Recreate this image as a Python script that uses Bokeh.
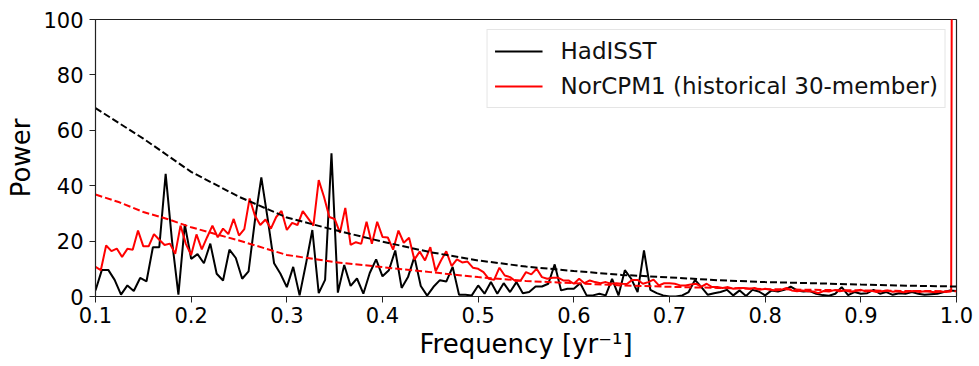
import numpy as np
from bokeh.plotting import figure
from bokeh.models import Range1d, FixedTicker, PrintfTickFormatter
from bokeh.embed import file_html
from bokeh.resources import INLINE

# ---------------- data ----------------
# HadISST periodogram (harmonics k/150 yr^-1, k = 15..150)
hadisst_k0, hadisst_n = 15, 150
hadisst_power = [
    2.2, 9.6, 9.6, 6.0, 0.7, 4.0, 2.0, 6.7, 5.5, 17.8,
    17.8, 44.3, 20.0, 0.7, 26.0, 13.6, 15.3, 12.0, 19.1, 8.2,
    5.8, 16.9, 13.9, 6.4, 9.1, 27.5, 43.0, 28.0, 12.0, 8.2,
    3.4, 10.7, 0.4, 11.8, 24.0, 1.2, 6.0, 51.7, 1.4, 11.4,
    3.8, 6.5, 1.0, 8.5, 13.4, 7.3, 9.5, 16.6, 3.1, 7.0,
    14.3, 3.8, 0.3, 3.5, 5.9, 5.4, 10.7, 0.6, 0.6, 0.4,
    4.0, 1.0, 5.2, 1.0, 4.8, 1.6, 5.2, 1.2, 1.6, 3.6,
    3.6, 4.6, 11.6, 2.2, 2.8, 2.8, 4.8, 0.4, 0.4, 1.0,
    0.4, 6.4, 0.4, 9.5, 6.4, 1.6, 16.6, 2.4, 1.2, 0.4,
    0.0, 0.0, 0.4, 1.6, 6.0, 3.4, 0.6, 1.2, 1.6, 2.4,
    0.4, 2.2, 0.2, 2.4, 1.8, 0.4, 2.2, 1.8, 2.4, 3.6,
    2.2, 1.8, 2.0, 1.0, 0.5, 0.3, 1.0, 3.4, 0.5, 1.6,
    1.0, 1.2, 2.4, 1.0, 1.6, 0.6, 1.2, 1.0, 1.6, 1.0,
    0.6, 0.8, 1.0, 1.6, 2.2, 2.0,
]

# NorCPM1 historical 30-member periodogram (harmonics k/180 yr^-1, k = 18..180)
norcpm_k0, norcpm_n = 18, 180
norcpm_power = [
    10.7, 9.5, 18.4, 16.4, 17.3, 14.3, 17.2, 16.9, 23.8, 18.1,
    18.1, 22.5, 20.5, 18.6, 19.1, 15.4, 25.6, 19.0, 15.0, 22.4,
    17.0, 21.4, 25.6, 21.4, 24.5, 22.5, 28.0, 22.0, 24.3, 35.4,
    29.2, 25.8, 27.8, 24.5, 28.7, 30.9, 24.0, 26.6, 25.8, 30.8,
    28.2, 25.6, 42.0, 35.9, 28.7, 28.0, 23.0, 32.0, 18.6, 19.6,
    19.0, 27.0, 19.0, 27.0, 21.5, 21.3, 16.9, 23.8, 19.4, 21.2,
    13.3, 16.2, 13.0, 17.8, 9.1, 13.0, 16.3, 11.0, 13.4, 12.3,
    12.6, 10.4, 10.0, 8.8, 6.4, 6.0, 10.4, 7.6, 7.0, 5.6,
    5.8, 8.8, 8.0, 10.0, 7.0, 6.4, 6.8, 6.8, 5.8, 5.8,
    4.6, 6.4, 4.8, 5.8, 5.2, 4.8, 5.2, 4.6, 4.8, 4.6,
    4.5, 6.0, 6.0, 4.6, 5.2, 6.1, 4.0, 4.8, 4.8, 4.6,
    4.0, 4.0, 4.3, 4.6, 3.6, 4.6, 3.4, 3.4, 3.1, 3.4,
    2.8, 3.1, 3.1, 2.8, 3.1, 2.4, 2.8, 2.4, 2.2, 2.4,
    3.1, 2.2, 1.9, 2.2, 1.9, 1.8, 1.2, 2.0, 1.8, 2.3,
    1.9, 2.2, 1.7, 2.0, 2.4, 1.8, 2.1, 1.6, 1.9, 2.2,
    1.7, 1.9, 1.5, 1.8, 2.0, 1.6, 1.9, 1.7, 1.5, 1.8,
    1.6, 1.9, 1000.0,
]

# significance (red-noise) curves, read at these frequencies
sig_freq = [0.1, 0.125, 0.15, 0.175, 0.2, 0.25, 0.3, 0.35, 0.4, 0.45,
            0.5, 0.55, 0.6, 0.65, 0.7, 0.75, 0.8, 0.85, 0.9, 0.95, 1.0]
hadisst_sig = [68.0, 62.5, 57.0, 51.0, 45.0, 36.0, 28.5, 24.0, 19.8, 16.0,
               13.0, 10.8, 9.2, 7.8, 6.9, 5.9, 5.2, 4.8, 4.3, 3.9, 3.6]
norcpm_sig = [36.8, 34.0, 30.5, 28.0, 25.0, 20.2, 15.0, 12.4, 10.6, 8.8,
              7.0, 5.6, 4.8, 4.0, 3.5, 3.1, 2.7, 2.4, 2.2, 2.0, 1.9]

x_ticks = [0.1, 0.2, 0.3, 0.4, 0.5, 0.6, 0.7, 0.8, 0.9, 1.0]
y_ticks = [0, 20, 40, 60, 80, 100]

hadisst_freq = (np.arange(len(hadisst_power)) + hadisst_k0) / hadisst_n
norcpm_freq = (np.arange(len(norcpm_power)) + norcpm_k0) / norcpm_n

FONT = "DejaVu Sans"

p = figure(width=979, height=366, output_backend="svg", toolbar_location=None,
           x_range=Range1d(0.1, 1.0), y_range=Range1d(0, 100),
           min_border_left=95, min_border_right=23, min_border_top=19,
           min_border_bottom=70)

p.line(hadisst_freq, hadisst_power, line_color="black", line_width=2,
       legend_label="HadISST")
p.line(norcpm_freq, norcpm_power, line_color="#ff0000", line_width=2,
       legend_label="NorCPM1 (historical 30-member)")
p.line(sig_freq, hadisst_sig, line_color="black", line_width=2, line_dash="7 3")
p.line(sig_freq, norcpm_sig, line_color="#ff0000", line_width=2, line_dash="7 3")

p.xgrid.visible = False
p.ygrid.visible = False
p.outline_line_color = "#222222"
p.outline_line_width = 1.2

for ax in (p.xaxis[0], p.yaxis[0]):
    ax.axis_line_color = "#222222"
    ax.major_tick_line_color = "#222222"
    ax.major_tick_out = 6
    ax.major_tick_in = 0
    ax.minor_tick_line_color = None
    ax.major_label_text_font = FONT
    ax.major_label_text_font_size = "21px"
    ax.major_label_text_color = "black"
    ax.axis_label_text_font = FONT
    ax.axis_label_text_font_size = "26px"
    ax.axis_label_text_font_style = "normal"
    ax.axis_label_text_color = "black"

p.xaxis.ticker = FixedTicker(ticks=x_ticks)
p.xaxis.formatter = PrintfTickFormatter(format="%.1f")
p.yaxis.ticker = FixedTicker(ticks=y_ticks)
p.xaxis.axis_label = "Frequency [yr\u207b\u00b9]"
p.yaxis.axis_label = "Power"
p.xaxis.major_label_standoff = 4
p.xaxis.axis_label_standoff = 3
p.yaxis.major_label_standoff = 6
p.yaxis.axis_label_standoff = 4

lg = p.legend[0]
lg.location = "top_right"
lg.margin = 10
lg.padding = 7
lg.spacing = 7
lg.label_text_font = FONT
lg.label_text_font_size = "23px"
lg.label_text_color = "#111111"
lg.label_height = 28
lg.glyph_width = 48
lg.glyph_height = 20
lg.label_standoff = 18
lg.border_line_color = "#cccccc"
lg.border_line_width = 1
lg.background_fill_alpha = 0.85

open("out.html", "w").write(file_html(p, INLINE))
